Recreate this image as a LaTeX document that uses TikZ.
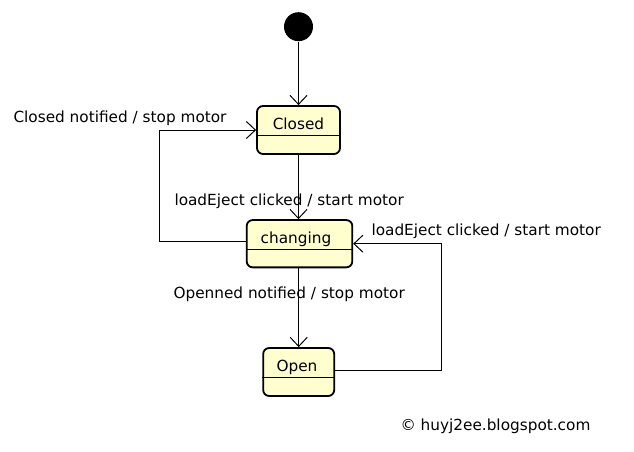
\documentclass[tikz,border=0pt]{standalone}
\usepackage{fontspec}
\setmainfont{DejaVu Sans}
\usetikzlibrary{arrows.meta}
\definecolor{statefill}{HTML}{FEFECE}
\tikzset{
  statebox/.style={draw,line width=1.8pt,rounded corners=6pt,fill=statefill,inner sep=0pt},
  lbl/.style={inner sep=0pt,font=\fontsize{15.3}{18}\selectfont}
}
\begin{document}
\begin{tikzpicture}[x=1pt,y=1pt,line width=1pt,>={Straight Barb[length=9pt,width=17pt]}]
\useasboundingbox (0,0) rectangle (634,-452);
\node [circle,fill=black,inner sep=0pt,minimum size=29pt] (ini) at (298.5,-26.7) {};
\node [statebox,minimum width=83pt,minimum height=48pt] (cl) at (298.5,-130) {};
\node [statebox,minimum width=105.6pt,minimum height=47.3pt] (ch) at (299.5,-243.7) {};
\node [statebox,minimum width=71pt,minimum height=48pt] (op) at (298.7,-372) {};
\draw [line width=0.8pt] ([yshift=-5pt]cl.west) -- ([yshift=-5pt]cl.east);
\draw [line width=0.8pt] ([yshift=-5.6pt]ch.west) -- ([yshift=-5.6pt]ch.east);
\draw [line width=0.8pt] ([yshift=-5.7pt]op.west) -- ([yshift=-5.7pt]op.east);
\node [lbl,anchor=base] (tcl) at (298.5,-129) {Closed};
\node [lbl,anchor=base] (tch) at (296,-243) {changing};
\node [lbl,anchor=base] (top) at (297,-371) {Open};
% transitions
\coordinate (lk) at (159,-130);
\coordinate (rk) at (441,-243.7);
\draw [->] (ini) -- (cl);
\draw [->] (cl) -- (ch.north -| cl.south);
\draw [->] (ch.south -| op.north) -- (op);
\draw [->] ([yshift=2.7pt]ch.west) -| (lk) -- (cl.west);
\draw [->] ([yshift=2pt]op.east) -| (rk) -- (ch.east);
% labels
\node [lbl,anchor=base west] (l1) at (13,-122) {Closed notified / stop motor};
\node [lbl,anchor=base west] (l2) at (174,-205) {loadEject clicked / start motor};
\node [lbl,anchor=base west] (l3) at (371,-235) {loadEject clicked / start motor};
\node [lbl,anchor=base west] (l4) at (173,-298) {Openned notified / stop motor};
\node [lbl,anchor=base west] (cp) at (400,-430) {© huyj2ee.blogspot.com};
\end{tikzpicture}
\end{document}
